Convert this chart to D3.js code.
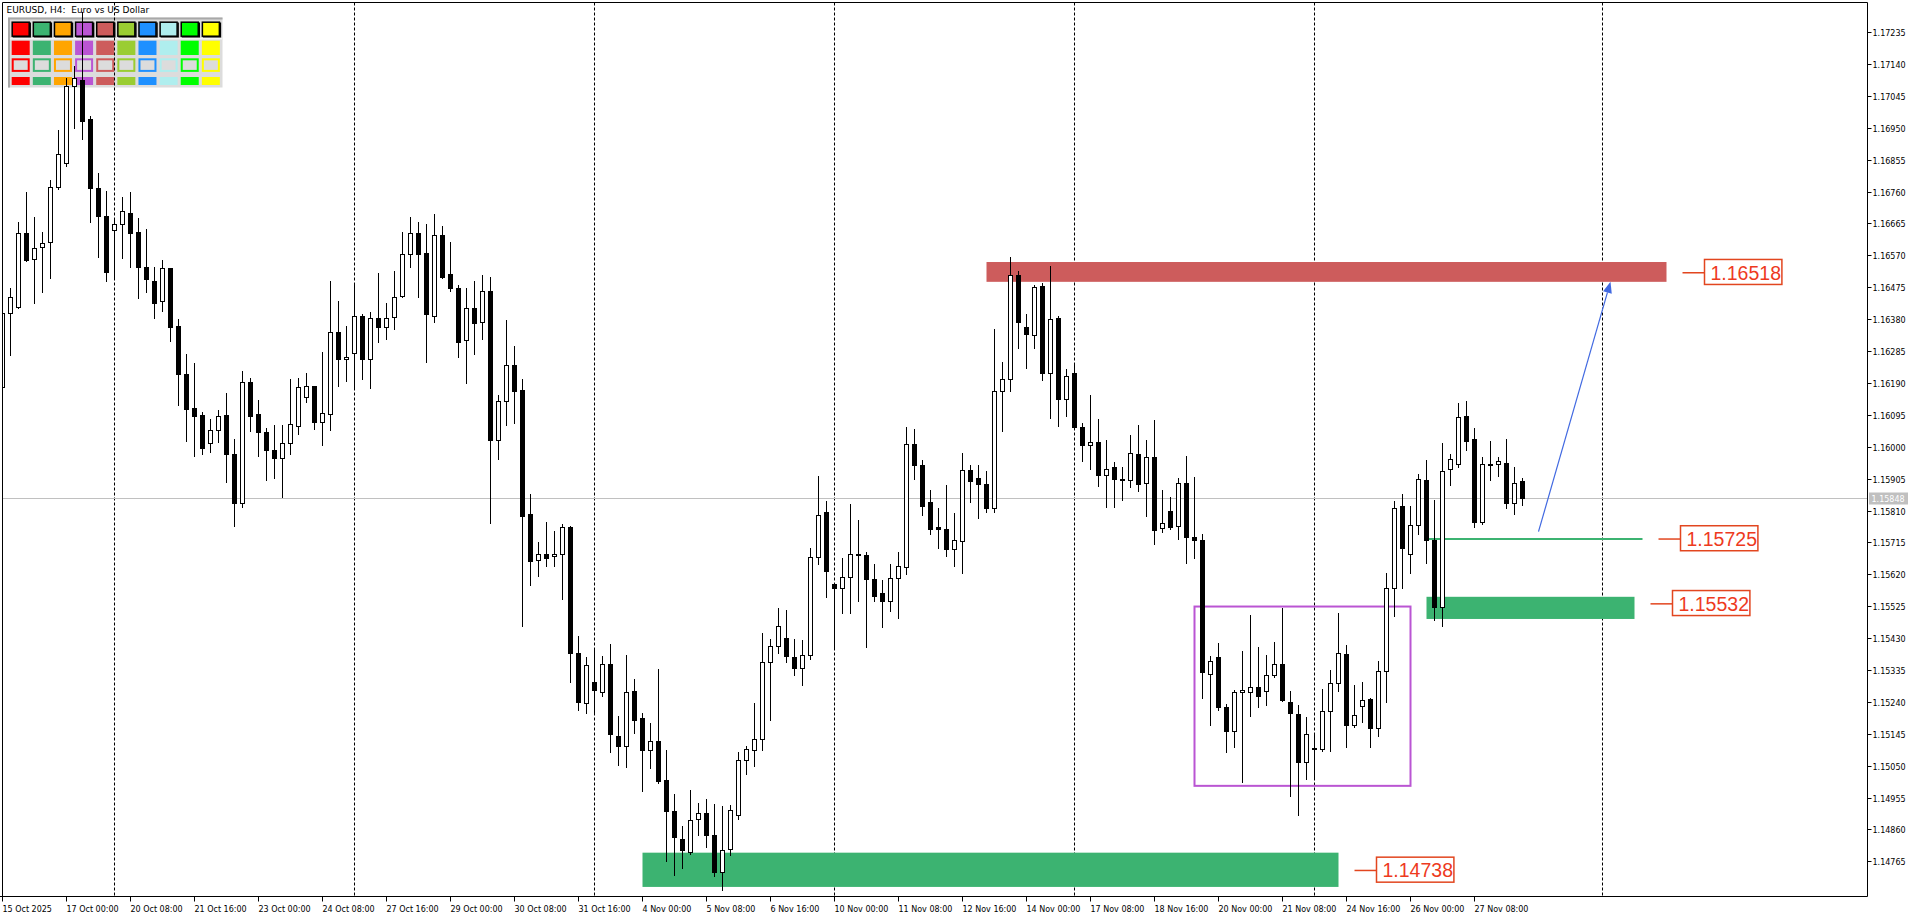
<!DOCTYPE html>
<html><head><meta charset="utf-8">
<script src="https://cdn.jsdelivr.net/npm/d3@7"></script>
<style>
html,body{margin:0;padding:0;background:#fff;overflow:hidden}
svg{display:block}
text{font-family:"DejaVu Sans",sans-serif}
</style>
</head><body>
<svg id="c" width="1920" height="915"></svg>
<script>
// ---------- DATA (EURUSD H4) ----------
const opens=[1.16179,1.16397,1.16417,1.16637,1.16558,1.16594,1.16609,1.16774,1.16844,1.17074,
1.17092,1.16976,1.1677,1.16687,1.16644,1.16662,1.16697,1.16638,1.16536,1.16494,
1.16435,1.16531,1.1636,1.16216,1.16114,1.16094,1.1601,1.1605,1.16093,1.15977,
1.15832,1.16192,1.16097,1.16044,1.1599,1.15966,1.1601,1.16063,1.16149,1.1618,
1.16073,1.16097,1.16341,1.1626,1.16278,1.16388,1.1626,1.16382,1.16357,1.16385,
1.16449,1.16573,1.16636,1.16576,1.1639,1.1663,1.16513,1.16472,1.16318,1.16412,
1.1637,1.16465,1.16019,1.16135,1.16242,1.1617,1.15801,1.15662,1.1568,1.15674,
1.1568,1.15762,1.15385,1.15237,1.153,1.1527,1.15354,1.15138,1.15109,1.15273,
1.15193,1.15097,1.15125,1.15008,1.14915,1.14832,1.14792,1.1489,1.14909,1.14844,
1.14733,1.14802,1.14903,1.15068,1.15097,1.15129,1.1536,1.15407,1.15431,1.15373,
1.15342,1.1538,1.15672,1.15807,1.15592,1.1558,1.15612,1.15676,1.15676,1.15606,
1.15565,1.15541,1.1561,1.15643,1.16007,1.15945,1.15834,1.1576,1.15756,1.15696,
1.15719,1.15931,1.15907,1.1589,1.15818,1.16166,1.16203,1.16511,1.16356,1.16334,
1.16479,1.16218,1.16383,1.16142,1.1622,1.16059,1.16006,1.16015,1.15915,1.1594,
1.15904,1.15901,1.15979,1.15893,1.1597,1.15758,1.15809,1.15763,1.15893,1.15732,
1.15721,1.15322,1.15374,1.15224,1.15153,1.1527,1.15269,1.15283,1.15272,1.15319,
1.15353,1.15241,1.15203,1.15062,1.15103,1.15099,1.15214,1.15296,1.15382,1.1517,
1.15228,1.1525,1.15161,1.15333,1.15579,1.15822,1.15681,1.15767,1.15902,1.15722,
1.15524,1.15933,1.15948,1.16092,1.16023,1.15777,1.15946,1.15948,1.15951,1.15832,
1.15898];
const highs=[1.16401,1.16472,1.1667,1.16758,1.16683,1.1664,1.16794,1.16943,1.17097,1.17134,
1.17295,1.16985,1.16814,1.16761,1.16675,1.16745,1.16758,1.1668,1.16648,1.16534,
1.16556,1.16533,1.16379,1.16276,1.16248,1.16103,1.16083,1.16109,1.16159,1.16023,
1.16226,1.16205,1.16139,1.16057,1.16065,1.16065,1.16202,1.16204,1.1622,1.16181,
1.16281,1.16494,1.16434,1.1636,1.16484,1.16394,1.16402,1.16516,1.16427,1.16523,
1.16638,1.16683,1.1667,1.16663,1.16692,1.16657,1.16609,1.16482,1.16472,1.16494,
1.16511,1.16505,1.16155,1.16377,1.163,1.16202,1.1586,1.15716,1.15775,1.15748,
1.15769,1.15764,1.15435,1.15373,1.15394,1.15376,1.15412,1.15197,1.1538,1.15309,
1.15208,1.15176,1.15337,1.15098,1.14967,1.14871,1.14979,1.1494,1.14952,1.14935,
1.14931,1.14932,1.1509,1.15108,1.15237,1.15444,1.15426,1.1552,1.15514,1.15428,
1.15424,1.15697,1.15912,1.15839,1.15593,1.15668,1.15828,1.15781,1.15685,1.1565,
1.15604,1.15651,1.15685,1.1606,1.16052,1.1596,1.15872,1.15816,1.15886,1.15804,
1.1598,1.15946,1.15946,1.15927,1.16351,1.16251,1.16566,1.16523,1.16395,1.16483,
1.16488,1.16539,1.16389,1.16232,1.16249,1.1607,1.16153,1.16083,1.16021,1.15953,
1.1594,1.16034,1.16064,1.16021,1.1608,1.15871,1.15851,1.15907,1.15973,1.1591,
1.15741,1.15377,1.15415,1.15233,1.15275,1.15393,1.155,1.15404,1.15379,1.15419,
1.1552,1.15271,1.1523,1.15195,1.15147,1.15277,1.15334,1.15504,1.1541,1.15291,
1.15299,1.15251,1.15363,1.15623,1.15838,1.1586,1.15824,1.15918,1.1596,1.15841,
1.16012,1.15978,1.16129,1.16136,1.16055,1.15969,1.16017,1.15969,1.16023,1.1594,
1.15906];
const lows=[1.16178,1.16273,1.16412,1.16554,1.16429,1.16462,1.16503,1.16767,1.16836,1.1695,
1.16917,1.1667,1.16566,1.16494,1.16506,1.16563,1.16536,1.16444,1.16462,1.16384,
1.16405,1.16316,1.16124,1.16018,1.15973,1.15979,1.15985,1.16015,1.15896,1.15765,
1.15821,1.16048,1.15973,1.15901,1.15908,1.15851,1.15978,1.16039,1.16134,1.16052,
1.16005,1.1605,1.16182,1.16197,1.16176,1.16202,1.16176,1.16313,1.16321,1.1635,
1.16445,1.16536,1.16447,1.16253,1.16372,1.16502,1.16465,1.16268,1.16189,1.16277,
1.1632,1.15774,1.15964,1.16064,1.16072,1.15467,1.15589,1.15615,1.15645,1.15645,
1.15545,1.15298,1.15217,1.15208,1.15208,1.15259,1.15091,1.15051,1.15045,1.15147,
1.14974,1.15043,1.14997,1.14766,1.14725,1.14746,1.14787,1.14843,1.14807,1.14722,
1.14681,1.14785,1.14891,1.15026,1.15049,1.15096,1.15186,1.15387,1.15358,1.15321,
1.1529,1.15367,1.15651,1.15553,1.15404,1.15506,1.15506,1.15539,1.15404,1.15541,
1.15463,1.15512,1.15491,1.15622,1.15905,1.15797,1.15741,1.15697,1.15675,1.15645,
1.15624,1.15835,1.15787,1.15807,1.15807,1.16047,1.16166,1.16293,1.16235,1.16295,
1.16199,1.16086,1.16061,1.16091,1.16056,1.15957,1.15934,1.15882,1.15821,1.15821,
1.1584,1.15879,1.15868,1.15794,1.1571,1.15747,1.15754,1.15725,1.15653,1.1567,
1.15253,1.15172,1.15217,1.15092,1.15106,1.15001,1.15197,1.15224,1.1523,1.15314,
1.15244,1.1496,1.14902,1.15009,1.15009,1.15093,1.15093,1.15272,1.15106,1.15164,
1.15181,1.15106,1.15139,1.15241,1.15495,1.15578,1.15625,1.15741,1.15654,1.15483,
1.15467,1.15886,1.15941,1.1599,1.15762,1.15769,1.15901,1.15914,1.15818,1.15799,
1.15826];
const closes=[1.16397,1.16447,1.16636,1.16556,1.16593,1.16608,1.16774,1.16873,1.17074,1.17097,
1.16971,1.1677,1.16686,1.16521,1.16662,1.16702,1.16637,1.16536,1.165,1.16427,
1.16531,1.16357,1.16216,1.16112,1.16092,1.15995,1.1605,1.16091,1.15979,1.15832,
1.16192,1.16092,1.16045,1.15991,1.15966,1.1601,1.16067,1.16177,1.1618,1.16075,
1.161,1.16341,1.1626,1.16266,1.16388,1.1626,1.16382,1.16357,1.16382,1.16447,
1.16573,1.16636,1.16573,1.16394,1.1663,1.16506,1.16472,1.16313,1.16412,1.16369,
1.16465,1.16019,1.16137,1.16242,1.16167,1.15795,1.15659,1.1568,1.1567,1.1568,
1.15762,1.15386,1.1524,1.1535,1.15274,1.15354,1.15144,1.15109,1.1527,1.15186,
1.15096,1.15125,1.15005,1.14914,1.14837,1.14798,1.14888,1.14908,1.14843,1.14733,
1.14799,1.14917,1.15068,1.151,1.15129,1.1536,1.15406,1.15466,1.15378,1.15342,
1.1538,1.15672,1.15797,1.1563,1.1558,1.15612,1.1568,1.1568,1.15606,1.15556,
1.15541,1.1561,1.15645,1.16007,1.15946,1.15823,1.15756,1.15756,1.15696,1.15723,
1.15931,1.15899,1.15888,1.15818,1.16166,1.16203,1.16511,1.16371,1.16337,1.16475,
1.16219,1.16379,1.16142,1.1621,1.16059,1.16006,1.16015,1.15915,1.15934,1.15904,
1.15901,1.15982,1.15888,1.1597,1.15752,1.15772,1.15761,1.15893,1.1573,1.15722,
1.1533,1.15361,1.15225,1.15154,1.1527,1.15274,1.15283,1.15258,1.15319,1.15352,
1.15246,1.15206,1.15062,1.15145,1.15099,1.15214,1.15296,1.15385,1.1517,1.152,
1.15246,1.15161,1.15333,1.15579,1.15818,1.15697,1.15767,1.15904,1.15722,1.15523,
1.15928,1.15963,1.16088,1.16018,1.15777,1.15948,1.15948,1.15957,1.15832,1.15891,
1.15848];
const currentPrice=1.15848;
const yTickLabels=["1.17235","1.17140","1.17045","1.16950","1.16855","1.16760","1.16665","1.16570","1.16475",
"1.16380","1.16285","1.16190","1.16095","1.16000","1.15905","1.15810","1.15715","1.15620","1.15525",
"1.15430","1.15335","1.15240","1.15145","1.15050","1.14955","1.14860","1.14765"];
const xTickLabels=["15 Oct 2025","17 Oct 00:00","20 Oct 08:00","21 Oct 16:00","23 Oct 00:00","24 Oct 08:00",
"27 Oct 16:00","29 Oct 00:00","30 Oct 08:00","31 Oct 16:00","4 Nov 00:00","5 Nov 08:00","6 Nov 16:00",
"10 Nov 00:00","11 Nov 08:00","12 Nov 16:00","14 Nov 00:00","17 Nov 08:00","18 Nov 16:00","20 Nov 00:00",
"21 Nov 08:00","24 Nov 16:00","26 Nov 00:00","27 Nov 08:00"];
const xTickEvery=8;
const separatorBars=[14,44,74,104,134,164,200];
// zones: [fromBar, toBar, top, bottom, labelValue]
const supplyZone=[123,208,1.16550,1.16491,1.16518];
const demandZoneUpper=[178,204,1.15553,1.15487,1.15532];
const demandZoneLower=[80,167,1.14791,1.14689,1.14738];
const levelLine=[178,205,1.15725];
const rangeBox=[149,176,1.15524,1.14990];
const arrowPts=[[192,1.15747],[201,1.16491]];
const panelColors=["#FF0000","#3CB371","#FFA500","#BA55D3","#CD5C5C","#9ACD32","#1E90FF","#AFEEEE","#00FF00","#FFFF00"];
const title="EURUSD, H4:  Euro vs US Dollar";

// ---------- LAYOUT ----------
const svg=d3.select("#c");
const L=2.5,T=2.5,R=1867.5,B=896.5;
const x=d3.scaleLinear().domain([0,200]).range([2.5,1602.5]);
const y=d3.scaleLinear().domain([1.17235,1.14765]).range([32,861.4]);
const labelColor="#EE3A1E", labelBorder="#E2461F";

svg.append("rect").attr("width",1920).attr("height",915).attr("fill","#fff");
svg.append("defs").append("clipPath").attr("id","plot").append("rect")
  .attr("x",L+0.5).attr("y",T+0.5).attr("width",R-L-1).attr("height",B-T-1);

// frame
svg.append("path").attr("d",`M${L},${B}V${T}H${R}`).attr("fill","none").attr("stroke","#000").attr("stroke-width",1);

// title + panel
svg.append("text").attr("x",6.5).attr("y",13).attr("font-size",9).style("white-space","pre").attr("fill","#000").text(title);
const pg=svg.append("g");
pg.append("rect").attr("x",8).attr("y",17.5).attr("width",214.5).attr("height",70).attr("fill","#DCDCDC");
pg.append("path").attr("d","M9,87.5V18.5H222.5").attr("fill","none").attr("stroke","#A8A8A8").attr("stroke-width",2);
pg.append("path").attr("d","M10,38.8H222").attr("stroke","#F4F4F4").attr("stroke-width",1.5);
const px=i=>11.7+21.13*i;
pg.selectAll(".r1").data(panelColors).join("rect").attr("x",(d,i)=>px(i)+0.5).attr("y",22.2).attr("width",17).attr("height",14)
  .attr("fill",d=>d).attr("stroke","#000").attr("stroke-width",1.5);
pg.selectAll(".r1b").data(panelColors).join("path").attr("d",(d,i)=>`M${px(i)+18.5},22.5V36.8H${px(i)+1}`)
  .attr("fill","none").attr("stroke","#000").attr("stroke-width",1.5);
pg.selectAll(".r2").data(panelColors).join("rect").attr("x",(d,i)=>px(i)).attr("y",40.7).attr("width",18).attr("height",14.3).attr("fill",d=>d);
pg.selectAll(".r3").data(panelColors).join("rect").attr("x",(d,i)=>px(i)+1).attr("y",59.3).attr("width",16).attr("height",11.6)
  .attr("fill","#DCDCDC").attr("stroke",d=>d).attr("stroke-width",2);
pg.selectAll(".r4").data(panelColors).join("rect").attr("x",(d,i)=>px(i)).attr("y",77).attr("width",18).attr("height",8).attr("fill",d=>d);

const plot=svg.append("g").attr("clip-path","url(#plot)");

// separators
plot.selectAll(".sep").data(separatorBars).join("line")
  .attr("x1",d=>x(d)).attr("x2",d=>x(d)).attr("y1",T).attr("y2",B)
  .attr("stroke","#000").attr("stroke-width",1).attr("stroke-dasharray","3,2");

// current price line
const cpY=Math.round(y(currentPrice))+0.5;
plot.append("line").attr("x1",L).attr("x2",R).attr("y1",cpY).attr("y2",cpY).attr("stroke","#C0C0C0").attr("stroke-width",1);

// zones
function zone(z,color){
  plot.append("rect").attr("x",x(z[0])).attr("width",x(z[1])-x(z[0]))
    .attr("y",y(z[2])).attr("height",y(z[3])-y(z[2])).attr("fill",color);
}
zone(supplyZone,"#CD5C5C");
zone(demandZoneUpper,"#3CB371");
zone(demandZoneLower,"#3CB371");
plot.append("line").attr("x1",x(levelLine[0])).attr("x2",x(levelLine[1]))
  .attr("y1",y(levelLine[2])).attr("y2",y(levelLine[2])).attr("stroke","#3CB371").attr("stroke-width",2);
plot.append("rect").attr("x",x(rangeBox[0])).attr("width",x(rangeBox[1])-x(rangeBox[0]))
  .attr("y",y(rangeBox[2])).attr("height",y(rangeBox[3])-y(rangeBox[2]))
  .attr("fill","none").attr("stroke","#BA55D3").attr("stroke-width",2);

// candles
const data=d3.range(opens.length).map(i=>({i,o:opens[i],h:highs[i],l:lows[i],c:closes[i]}));
const cg=plot.append("g").attr("shape-rendering","crispEdges");
cg.selectAll(".w").data(data).join("line")
  .attr("x1",d=>x(d.i)).attr("x2",d=>x(d.i))
  .attr("y1",d=>Math.round(y(d.h))).attr("y2",d=>Math.round(y(d.l))+1)
  .attr("stroke","#000").attr("stroke-width",1);
cg.selectAll(".b").data(data).join("rect")
  .attr("x",d=>x(d.i)-2)
  .attr("y",d=>Math.round(y(Math.max(d.o,d.c)))+0.5)
  .attr("width",4)
  .attr("height",d=>Math.max(0,Math.round(y(Math.min(d.o,d.c)))-Math.round(y(Math.max(d.o,d.c)))))
  .attr("fill",d=>d.c>=d.o?"#fff":"#000").attr("stroke","#000").attr("stroke-width",1);

// arrow
const a0=[x(arrowPts[0][0]),y(arrowPts[0][1])], a1=[x(arrowPts[1][0]),y(arrowPts[1][1])];
const ang=Math.atan2(a1[1]-a0[1],a1[0]-a0[0]);
const hl=11, hw=4.5;
const base=[a1[0]-hl*Math.cos(ang),a1[1]-hl*Math.sin(ang)];
plot.append("line").attr("x1",a0[0]).attr("y1",a0[1]).attr("x2",base[0]).attr("y2",base[1]).attr("stroke","#4169E1").attr("stroke-width",1.2);
plot.append("path").attr("d",`M${a1[0]},${a1[1]}L${base[0]-hw*Math.sin(ang)},${base[1]+hw*Math.cos(ang)}L${base[0]+hw*Math.sin(ang)},${base[1]-hw*Math.cos(ang)}Z`).attr("fill","#4169E1");

// price labels
function priceLabel(endBar,val){
  const py=y(val), x0=x(endBar)+16;
  svg.append("line").attr("x1",x0).attr("x2",x0+22).attr("y1",py).attr("y2",py).attr("stroke",labelBorder).attr("stroke-width",1.5);
  svg.append("rect").attr("x",x0+22).attr("y",py-13.3).attr("width",77.4).attr("height",25).attr("fill","#fff").attr("stroke",labelBorder).attr("stroke-width",1.5);
  svg.append("text").attr("x",x0+28).attr("y",py+7).attr("font-size",19.5).style("font-family","'Liberation Sans',Arial,sans-serif")
    .attr("fill",labelColor).text(val.toFixed(5));
}
priceLabel(supplyZone[1],supplyZone[4]);
priceLabel(levelLine[1],levelLine[2]);
priceLabel(demandZoneUpper[1],demandZoneUpper[4]);
priceLabel(demandZoneLower[1],demandZoneLower[4]);

// y axis
svg.append("line").attr("x1",R).attr("x2",R).attr("y1",T).attr("y2",B).attr("stroke","#000");
const yt=svg.append("g");
yTickLabels.forEach(s=>{
  const v=+s, yy=Math.round(y(v))+0.5;
  yt.append("line").attr("x1",R).attr("x2",R+4).attr("y1",yy).attr("y2",yy).attr("stroke","#000");
  yt.append("text").attr("x",R+5).attr("y",yy+3).attr("font-size",8).attr("fill","#000").text(s);
});
yt.append("rect").attr("x",R+1.5).attr("y",cpY-6).attr("width",39).attr("height",12).attr("fill","#C0C0C0");
yt.append("text").attr("x",R+4).attr("y",cpY+3).attr("font-size",8).attr("fill","#fff").text(currentPrice.toFixed(5));

// x axis
svg.append("line").attr("x1",0).attr("x2",R).attr("y1",B).attr("y2",B).attr("stroke","#000");
const xt=svg.append("g");
xTickLabels.forEach((s,i)=>{
  const xx=x(i*xTickEvery);
  xt.append("line").attr("x1",xx).attr("x2",xx).attr("y1",B).attr("y2",B+5).attr("stroke","#000");
  xt.append("text").attr("x",xx).attr("y",912).attr("font-size",8).attr("fill","#000").text(s);
});
</script>
</body></html>
